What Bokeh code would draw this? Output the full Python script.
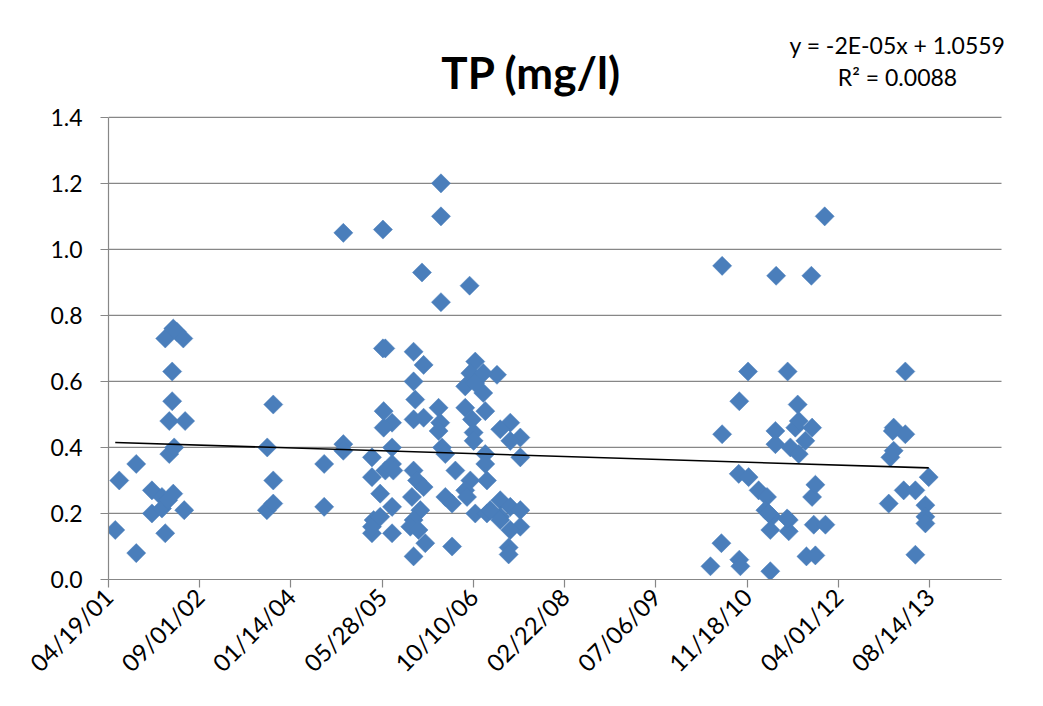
import math
import pandas as pd
from bokeh.plotting import figure
from bokeh.models import (Range1d, FixedTicker, Label, ColumnDataSource)
from bokeh.embed import file_html
from bokeh.resources import INLINE

# ---------------- data ----------------
# Sample dates as Excel serial day numbers, TP in mg/l
dates_2001_2002 = [37037, 37059, 37152, 37152, 37238, 37238, 37293, 37293, 37311, 37311,
                   37327, 37333, 37333, 37349, 37349, 37355, 37355, 37360, 37375, 37410,
                   37415, 37420]
tp_2001_2002 = [0.15, 0.30, 0.35, 0.08, 0.27, 0.20, 0.25, 0.215, 0.73, 0.14,
                0.24, 0.48, 0.38, 0.63, 0.54, 0.76, 0.26, 0.40, 0.75, 0.73,
                0.21, 0.48]

dates_2003_2004 = [37868, 37870, 37903, 37903, 37903, 38182, 38182, 38287, 38287, 38287]
tp_2003_2004 = [0.21, 0.40, 0.53, 0.30, 0.23, 0.35, 0.22, 1.05, 0.41, 0.39]

dates_2005_2007 = [38822, 38822, 38504, 38718, 38979, 38822, 38504, 38517, 38672, 38727,
                   38672, 39010, 38983, 39129, 39054, 38955, 39054, 39010, 38508, 38681,
                   38809, 38955, 39065, 38672, 38727, 38554, 38508, 38818, 38809, 38992,
                   39001, 39001, 39202, 39147, 39257, 39202, 38554, 38828, 38444, 39257,
                   39065, 38554, 38846, 39065, 38901, 38517, 38672, 38444, 38561, 38983,
                   39074, 38691, 38727, 38489, 38955, 38663, 38846, 38883, 38554, 38965,
                   39147, 39010, 39074, 39147, 39202, 39257, 38709, 38453, 38444, 38444,
                   38489, 38672, 38654, 38699, 38554, 38736, 38883, 38672, 39193, 39193,
                   39257, 39202, 39147, 39092]
tp_2005_2007 = [1.20, 1.10, 1.06, 0.93, 0.89, 0.84, 0.70, 0.70, 0.69, 0.65,
                0.60, 0.66, 0.625, 0.62, 0.625, 0.585, 0.565, 0.595, 0.51, 0.545,
                0.52, 0.52, 0.51, 0.485, 0.49, 0.475, 0.46, 0.475, 0.45, 0.485,
                0.445, 0.42, 0.475, 0.455, 0.43, 0.42, 0.40, 0.40, 0.37, 0.37,
                0.38, 0.35, 0.38, 0.35, 0.33, 0.33, 0.33, 0.31, 0.33, 0.30,
                0.30, 0.30, 0.28, 0.26, 0.27, 0.25, 0.25, 0.23, 0.22, 0.25,
                0.24, 0.20, 0.20, 0.19, 0.22, 0.21, 0.21, 0.18, 0.14, 0.16,
                0.19, 0.18, 0.16, 0.15, 0.14, 0.11, 0.10, 0.07, 0.097, 0.076,
                0.16, 0.15, 0.18, 0.21]

dates_2010_2011 = [40299, 40359, 40363, 40363, 40454, 40457, 40457, 40463, 40505, 40508,
                   40563, 40609, 40600, 40637, 40627, 40627, 40659, 40655, 40655, 40722,
                   40728, 40728, 40737, 40764, 40777, 40783, 40783, 40819, 40825, 40852,
                   40856, 40856, 40874, 40874, 40865, 40925, 40929, 40619, 40719]
tp_2010_2011 = [0.04, 0.11, 0.44, 0.95, 0.32, 0.54, 0.06, 0.04, 0.63, 0.31,
                0.27, 0.25, 0.21, 0.19, 0.15, 0.025, 0.92, 0.45, 0.41, 0.63,
                0.18, 0.146, 0.40, 0.46, 0.53, 0.48, 0.38, 0.42, 0.07, 0.92,
                0.46, 0.25, 0.287, 0.073, 0.166, 1.10, 0.166, 0.20, 0.185]

dates_2013 = [41276, 41285, 41303, 41303, 41298, 41367, 41367, 41358, 41422, 41422,
              41477, 41477, 41477, 41495]
tp_2013 = [0.23, 0.37, 0.46, 0.39, 0.45, 0.44, 0.63, 0.27, 0.27, 0.075,
           0.225, 0.19, 0.17, 0.31]

tick_labels = ["04/19/01", "09/01/02", "01/14/04", "05/28/05", "10/10/06",
               "02/22/08", "07/06/09", "11/18/10", "04/01/12", "08/14/13"]
y_ticks = [0.0, 0.2, 0.4, 0.6, 0.8, 1.0, 1.2, 1.4]
x_axis_max = 41894

trend_slope = -1.73e-5
trend_intercept = 1.0559
equation_text = "y = -2E-05x + 1.0559"
r2_text = "R\u00b2 = 0.0088"
title_text = "TP (mg/l)"

# ---------------- derived ----------------
dates = dates_2001_2002 + dates_2003_2004 + dates_2005_2007 + dates_2010_2011 + dates_2013
tp = tp_2001_2002 + tp_2003_2004 + tp_2005_2007 + tp_2010_2011 + tp_2013

excel_epoch = pd.Timestamp("1899-12-30")
tick_vals = [int((pd.to_datetime(t, format="%m/%d/%y") - excel_epoch).days) for t in tick_labels]
x_min = tick_vals[0]

FONT = "Lato"
GRID = "#878787"

# layout (pixels)
W, H = 1027, 690
TOP, BOTTOM, LEFT, RIGHT = 4, 110, 108, 4
AXIS_TOP_PX = 117        # canvas row of the 1.4 line
AXIS_RIGHT_PX = 1001     # canvas column where the x axis ends
frame_h = H - TOP - BOTTOM
axis_h = H - BOTTOM - AXIS_TOP_PX
frame_w = W - LEFT - RIGHT
axis_w = AXIS_RIGHT_PX - LEFT
y_max = y_ticks[-1]
y_end = y_max * frame_h / axis_h                        # head room for the title text
x_end = x_min + (x_axis_max - x_min) * frame_w / axis_w  # side room for the equation

p = figure(width=W, height=H, output_backend="svg", toolbar_location=None,
           x_range=Range1d(x_min, x_end), y_range=Range1d(0, y_end))
p.min_border_left = LEFT
p.min_border_right = RIGHT
p.min_border_top = TOP
p.min_border_bottom = BOTTOM
p.outline_line_color = None
p.background_fill_color = "white"
p.border_fill_color = "white"

# horizontal grid lines, limited to the axis span
p.xgrid.grid_line_color = None
p.ygrid.grid_line_color = None
p.segment(x0=[x_min] * len(y_ticks), x1=[x_axis_max] * len(y_ticks), y0=y_ticks, y1=y_ticks,
          line_color=GRID, line_width=1.2)

# axes
p.yaxis.ticker = FixedTicker(ticks=y_ticks)
p.yaxis.bounds = (0, y_max)
p.yaxis.major_label_overrides = {v: f"{v:.1f}" for v in y_ticks}
p.xaxis.ticker = FixedTicker(ticks=tick_vals)
p.xaxis.bounds = (x_min, x_axis_max)
p.xaxis.major_label_overrides = {v: s for v, s in zip(tick_vals, tick_labels)}
p.xaxis.major_label_orientation = math.pi / 4
for ax in (p.xaxis, p.yaxis):
    ax.axis_line_color = GRID
    ax.axis_line_width = 1.2
    ax.major_tick_line_color = GRID
    ax.major_tick_line_width = 1.2
    ax.major_tick_in = 0
    ax.major_tick_out = 8
    ax.minor_tick_line_color = None
    ax.major_label_text_font = FONT
    ax.major_label_text_color = "black"
p.yaxis.major_label_text_font_size = "23px"
p.xaxis.major_label_text_font_size = "24px"
p.yaxis.major_label_standoff = 18
p.xaxis.major_label_standoff = 5

# scatter
src = ColumnDataSource(dict(x=dates, y=tp))
p.scatter("x", "y", source=src, marker="square", size=13.5, angle=math.pi / 4,
          fill_color="#4A7EBB", line_color="#4A7EBB", line_width=0.5)

# trend line over the data span
x0, x1 = min(dates), max(dates)
p.line([x0, x1], [trend_intercept + trend_slope * x0, trend_intercept + trend_slope * x1],
       line_color="black", line_width=1.6)

# title and equation (in the head room above 1.4)
p.add_layout(Label(x=39317, y=1.536, text=title_text,
                   text_font=FONT, text_font_style="bold", text_font_size="44px",
                   text_align="center", text_baseline="middle", text_color="black"))
p.add_layout(Label(x=41324, y=1.618, text=equation_text,
                   text_font=FONT, text_font_size="23px",
                   text_align="center", text_baseline="middle", text_color="black"))
p.add_layout(Label(x=41324, y=1.521, text=r2_text,
                   text_font=FONT, text_font_size="23px",
                   text_align="center", text_baseline="middle", text_color="black"))

open("out.html", "w").write(file_html(p, INLINE))
